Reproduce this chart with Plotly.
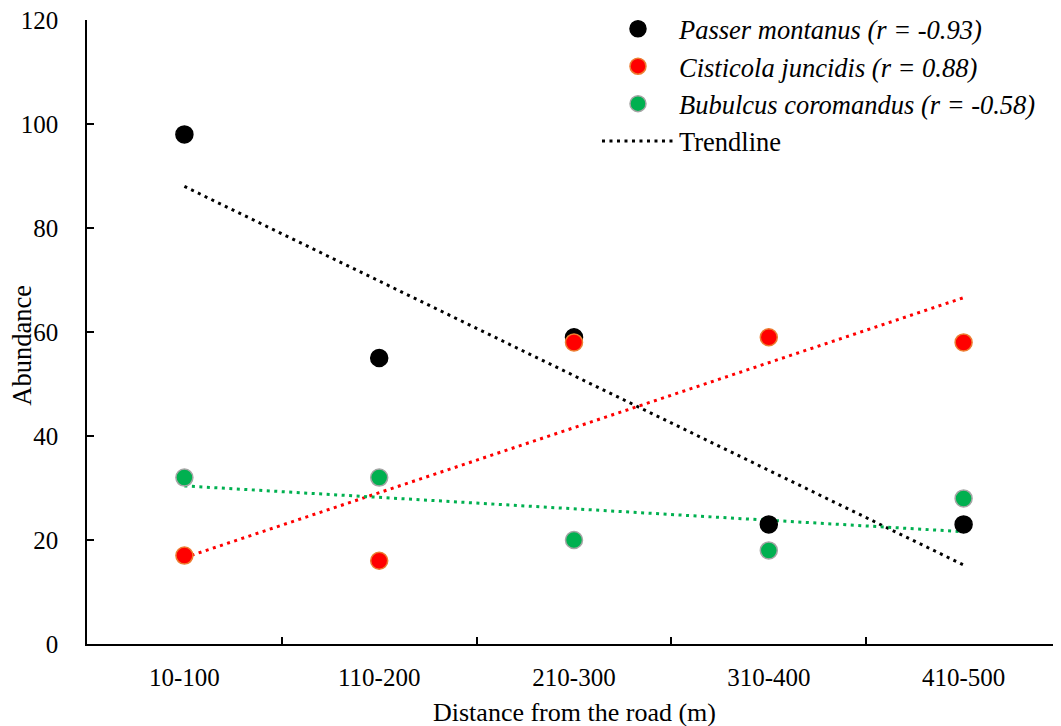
import numpy as np
import plotly.graph_objects as go

categories = ["10-100", "110-200", "210-300", "310-400", "410-500"]
passer = [98, 55, 59, 23, 23]
cisticola = [17, 16, 58, 59, 58]
bubulcus = [32, 32, 20, 18, 28]

series = [
    ("Passer montanus (r = -0.93)", passer, "#000000", "#000000", "#000000"),
    ("Cisticola juncidis (r = 0.88)", cisticola, "#FF0000", "#ED7D31", "#FF0000"),
    ("Bubulcus coromandus (r = -0.58)", bubulcus, "#00B050", "#A5A5A5", "#00B050"),
]

FONT = "Times New Roman, Liberation Serif, DejaVu Serif, serif"
xs = np.arange(len(categories))

fig = go.Figure()
# trendlines (linear least squares fit of each series)
for i, (name, vals, fill, edge, tcol) in enumerate(series):
    k, b = np.polyfit(xs, vals, 1)
    fig.add_trace(go.Scatter(
        x=[xs[0], xs[-1]], y=[b, b + k * xs[-1]], mode="lines",
        line=dict(color=tcol, width=3, dash="3px,4.5px"),
        name="Trendline", showlegend=(i == 0), legendrank=10,
        hoverinfo="skip"))
for i, (name, vals, fill, edge, tcol) in enumerate(series):
    fig.add_trace(go.Scatter(
        x=xs, y=vals, mode="markers", name=f"<i>{name}</i>",
        marker=dict(size=17, color=fill, line=dict(color=edge, width=1.5)),
        legendrank=i + 1))

fig.update_layout(
    width=1061, height=726,
    margin=dict(l=79, r=8, t=12, b=90, autoexpand=False),
    paper_bgcolor="white", plot_bgcolor="white",
    font=dict(family=FONT, size=25, color="black"),
    showlegend=True,
    legend=dict(x=0.5236, y=1.024, xanchor="left", yanchor="top",
                bgcolor="rgba(0,0,0,0)", font=dict(family=FONT, size=26.5),
                itemwidth=72, tracegroupgap=0, traceorder="normal"),
    xaxis=dict(range=[-0.5, 4.5], tickmode="array", tickvals=list(xs), ticktext=categories,
               ticks="", showgrid=False, zeroline=False, showline=True, automargin=False,
               linecolor="black", linewidth=1.5, ticklabelstandoff=10,
               ticklabeloverflow="allow",
               tickfont=dict(family=FONT, size=25),
               minor=dict(tickmode="array", tickvals=[0.5, 1.5, 2.5, 3.5], ticks="inside",
                          ticklen=7, tickwidth=1.5, tickcolor="black", showgrid=False)),
    yaxis=dict(range=[0, 120], tickvals=[0, 20, 40, 60, 80, 100, 120], ticks="inside",
               ticklen=7, tickwidth=1.5, tickcolor="black", showgrid=False, zeroline=False,
               showline=True, linecolor="black", linewidth=1.5, ticklabelstandoff=22,
               ticklabeloverflow="allow",
               automargin=False, tickfont=dict(family=FONT, size=25)),
    annotations=[
        dict(text="Distance from the road (m)", xref="paper", yref="paper", x=0.5, y=-0.109,
             xanchor="center", yanchor="middle", showarrow=False,
             font=dict(family=FONT, size=26)),
        dict(text="Abundance", xref="paper", yref="paper", x=-0.0662, y=0.479,
             xanchor="center", yanchor="middle", showarrow=False, textangle=-90,
             font=dict(family=FONT, size=26.5)),
    ],
)

fig.write_html("out.html")
